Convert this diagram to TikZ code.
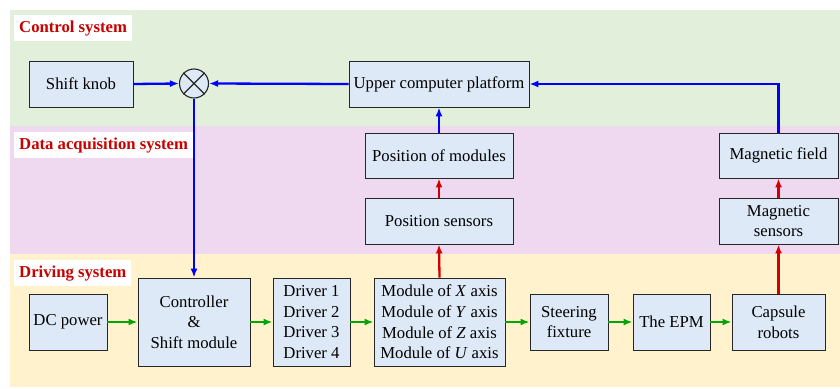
\documentclass[tikz,border=0pt]{standalone}
\usepackage{fontspec}
\setmainfont{Liberation Serif}
\usetikzlibrary{arrows.meta}

\definecolor{ctrlbg}{RGB}{226,239,218}
\definecolor{databg}{RGB}{239,217,240}
\definecolor{drivebg}{RGB}{255,242,204}
\definecolor{boxfill}{RGB}{221,233,246}
\definecolor{labred}{RGB}{200,0,0}
\definecolor{sigblue}{RGB}{0,0,255}
\definecolor{siggreen}{RGB}{0,165,0}
\definecolor{sigred}{RGB}{210,0,0}

\tikzset{
  blk/.style={draw=black!85, line width=0.9pt, fill=boxfill, inner sep=0pt,
    align=center, font=\fontsize{16.7}{20.7}\selectfont},
  syslabel/.style={fill=white, text=labred, anchor=north west, inner xsep=5pt,
    inner ysep=0pt, minimum height=26pt,
    font=\fontsize{16.7}{20}\selectfont\bfseries},
  flow/.style={line width=2.3pt, -{Latex[length=9pt,width=7pt]}},
  bluearr/.style={flow, draw=sigblue, color=sigblue},
  greenarr/.style={flow, draw=siggreen, color=siggreen},
  redarr/.style={flow, draw=sigred, color=sigred},
}

\begin{document}
\begin{tikzpicture}[x=1pt,y=-1pt]
  \useasboundingbox (0,0) rectangle (840,388);
  \fill[white] (0,0) rectangle (840,388);

  % three coloured subsystem bands
  \fill[ctrlbg]  (10,10)  rectangle (840,126);
  \fill[databg]  (10,126) rectangle (840,254);
  \fill[drivebg] (10,254) rectangle (840,387);

  \node[syslabel] (lctrl)  at (14,15)  {Control system};
  \node[syslabel] (ldata)  at (14,132) {Data acquisition system};
  \node[syslabel] (ldrive) at (14,260) {Driving system};

  % control system
  \node[blk, minimum width=104pt, minimum height=46pt] (knob) at (81,84) {Shift knob};
  \node[draw=black!85, line width=1.1pt, fill=boxfill, circle, minimum size=29pt,
        inner sep=0pt] (sum) at (194,83.5) {};
  \draw[black!85, line width=1.1pt] (sum.north east) -- (sum.south west)
                                    (sum.north west) -- (sum.south east);
  \node[blk, minimum width=180pt, minimum height=46pt] (upc) at (439,84) {Upper computer platform};

  % data acquisition system
  \node[blk, minimum width=148pt, minimum height=45pt] (posmod) at (439,155.5) {Position of modules};
  \node[blk, minimum width=148pt, minimum height=46pt] (possen) at (439,221) {Position sensors};
  \node[blk, minimum width=119pt, minimum height=45pt] (magf) at (778.5,155.5) {Magnetic field};
  \node[blk, minimum width=119pt, minimum height=46pt] (magsen) at (778.5,221) {Magnetic\\sensors};

  % driving system
  \node[blk, minimum width=78pt, minimum height=56pt] (dc) at (68,322) {DC power};
  \node[blk, minimum width=112pt, minimum height=88pt] (ctrl) at (194,322) {Controller\\\&\\Shift module};
  \node[blk, minimum width=77pt, minimum height=88pt] (drv) at (311.5,322) {Driver 1\\Driver 2\\Driver 3\\Driver 4};
  \node[blk, minimum width=131pt, minimum height=88pt] (mods) at (439.5,322)
    {Module of \textit{X} axis\\Module of \textit{Y} axis\\Module of \textit{Z} axis\\Module of \textit{U} axis};
  \node[blk, minimum width=78pt, minimum height=56pt] (steer) at (569,322) {Steering\\fixture};
  \node[blk, minimum width=77pt, minimum height=56pt] (epm) at (671.5,322) {The EPM};
  \node[blk, minimum width=93pt, minimum height=56pt] (caps) at (778.5,322) {Capsule\\robots};

  % control loop (blue)
  \draw[bluearr] (knob.east) -- (sum.west);
  \draw[bluearr] (upc.west) -- (sum.east);
  \draw[bluearr] (sum.south) -- (ctrl.north);
  \draw[bluearr] (posmod.north) -- (upc.south);
  \draw[bluearr] (magf.north) |- (upc.east);

  % sensing paths (red)
  \draw[redarr] (mods.north) -- (possen.south);
  \draw[redarr] (possen.north) -- (posmod.south);
  \draw[redarr] (caps.north) -- (magsen.south);
  \draw[redarr] (magsen.north) -- (magf.south);

  % driving chain (green)
  \draw[greenarr] (dc.east) -- (ctrl.west);
  \draw[greenarr] (ctrl.east) -- (drv.west);
  \draw[greenarr] (drv.east) -- (mods.west);
  \draw[greenarr] (mods.east) -- (steer.west);
  \draw[greenarr] (steer.east) -- (epm.west);
  \draw[greenarr] (epm.east) -- (caps.west);
\end{tikzpicture}
\end{document}
